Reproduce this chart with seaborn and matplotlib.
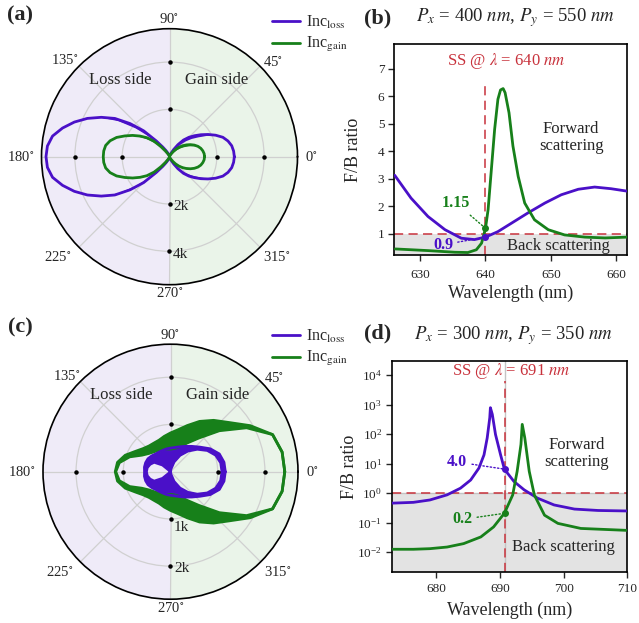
import numpy as np
import matplotlib
matplotlib.use("Agg")
import matplotlib.pyplot as plt
import seaborn as sns
from matplotlib.lines import Line2D
from matplotlib.ticker import NullLocator, FixedLocator

sns.set_theme(style="ticks")
plt.rcParams['font.family'] = ['Liberation Serif', 'DejaVu Serif']
plt.rcParams['mathtext.fontset'] = 'stix'

# ---------------- data ----------------
# (a) polar radiation patterns (upper half, mirrored for lower half)
ang_a = [0, 5, 10, 15, 20, 25, 30, 35, 40, 45, 50, 55, 60, 65, 70, 75, 80, 85, 90,
         95, 100, 105, 110, 115, 120, 125, 130, 135, 140, 145, 150, 155, 160, 165, 170, 175, 180]
loss_a = [2740, 2720, 2670, 2560, 2400, 2150, 1880, 1620, 1380, 1160, 920, 620, 350, 180, 100, 60, 40, 30, 30,
          30, 40, 60, 100, 180, 300, 500, 870, 1550, 2180, 2820, 3330, 3830, 4280, 4680, 5020, 5180, 5220]
loss_a_in = [2740, 2720, 2670, 2560, 2400, 2150, 1800, 1460, 1200, 950, 700, 420, 200, 120, 100, 60, 40, 30, 30,
             30, 40, 60, 80, 100, 180, 320, 600, 1200, 1900, 2650, 3330, 3830, 4280, 4680, 5020, 5180, 5220]
gain_a = [1480, 1470, 1430, 1370, 1280, 1160, 1020, 870, 720, 560, 400, 250, 130, 70, 40, 30, 30, 30, 30,
          30, 30, 40, 50, 90, 150, 300, 550, 920, 1250, 1520, 1800, 2080, 2380, 2600, 2740, 2790, 2800]
gain_a_in = [1480, 1470, 1430, 1370, 1280, 1100, 920, 740, 580, 420, 280, 150, 60, 30, 20, 10, 10, 10, 10,
             10, 10, 10, 20, 40, 80, 180, 380, 740, 1110, 1450, 1800, 2080, 2380, 2600, 2740, 2790, 2800]

# (c) polar patterns: outer / inner envelopes of the rapidly oscillating curves
ang_c = [0, 10, 20, 30, 40, 50, 60, 70, 80, 90, 100, 110, 120, 130, 140, 150, 160, 170, 180]
gain_c_out = [2420, 2400, 2300, 1950, 1620, 1420, 1230, 1040, 900, 820, 760, 710, 700, 710, 760, 860, 1020, 1140, 1170]
gain_c_in = [2420, 2400, 2300, 1860, 1350, 930, 700, 560, 500, 480, 490, 500, 520, 550, 600, 700, 920, 1100, 1160]
loss_c_out = [1160, 1150, 1100, 970, 810, 700, 620, 560, 520, 500, 490, 480, 480, 490, 520, 550, 560, 560, 550]
loss_c_in = [1090, 1080, 1020, 900, 740, 570, 400, 220, 60, 0, 0, 0, 0, 20, 220, 400, 460, 500, 510]

# (b) F/B ratio, Px=400, Py=550
wl_b_loss = [626.1, 628.6, 631.2, 633.8, 636.3, 638.3, 640.0, 641.9, 644.0, 646.5, 649.1, 651.6, 654.2, 656.7, 659.2, 661.7]
fb_b_loss = [3.13, 2.30, 1.63, 1.15, 0.84, 0.79, 0.88, 1.08, 1.39, 1.76, 2.12, 2.42, 2.62, 2.70, 2.64, 2.55]
wl_b_gain = [626.2, 631.2, 635.3, 637.3, 638.6, 639.4, 640.0, 640.4, 640.9, 641.4, 641.9, 642.3, 642.7,
             643.0, 643.6, 644.2, 645.0, 646.0, 647.5, 649.6, 652.1, 655.2, 658.3, 661.7]
fb_b_gain = [0.45, 0.39, 0.33, 0.32, 0.42, 0.66, 1.20, 1.88, 3.34, 4.80, 5.89, 6.23, 6.28,
             6.13, 5.40, 4.19, 3.09, 2.12, 1.51, 1.15, 0.96, 0.88, 0.85, 0.88]

# (d) F/B ratio, Px=300, Py=350 (log)
wl_d_loss = [673.0, 676.4, 679.0, 681.7, 683.8, 685.4, 686.7, 687.5, 688.0, 688.4, 688.5, 688.8, 689.3,
             690.1, 690.7, 692.2, 693.8, 695.9, 698.5, 701.7, 705.4, 710.0]
fb_d_loss = [0.46, 0.49, 0.59, 0.88, 1.48, 2.8, 7.1, 20, 75, 360, 790, 470, 98,
             20, 6.5, 2.5, 1.3, 0.68, 0.40, 0.29, 0.26, 0.25]
wl_d_gain = [673.0, 676.4, 679.0, 681.7, 684.3, 687.0, 689.0, 690.7, 692.0, 692.7, 693.3, 693.5, 693.9,
             694.6, 695.4, 697.0, 699.1, 702.7, 710.0]
fb_d_gain = [0.0126, 0.0126, 0.0132, 0.015, 0.0196, 0.033, 0.072, 0.21, 0.87, 5.5, 45, 215, 75,
             5.5, 0.87, 0.18, 0.095, 0.064, 0.055]

ss_b = 640.0
ss_d = 690.8
ann_b = {"loss": (0.88, "0.9"), "gain": (1.20, "1.15")}
ann_d = {"loss": (6.5, "4.0"), "gain": (0.21, "0.2")}

# ---------------- style ----------------
PURPLE = "#4a10c8"
GREEN = "#17801a"
RED = "#c8323c"
BG_LOSS = "#efebf8"
BG_GAIN = "#eaf4e9"
SHADE = "#e3e3e3"

W, H = 639, 623
fig = plt.figure(figsize=(W / 100, H / 100), dpi=100)


def fx(px):
    return px / W


def fy(py):
    return 1 - py / H


def mirror(ang, vals):
    a = np.deg2rad(np.concatenate([ang, 360 - np.array(ang[::-1][1:])]))
    v = np.concatenate([vals, np.array(vals[::-1][1:])])
    return a, v


def polar_panel(rect, rmax, rings, ring_labels, ring_offsets, curves, bands):
    ax = fig.add_axes(rect, projection='polar')
    ax.set_ylim(0, rmax)
    thl = np.linspace(np.pi / 2, 3 * np.pi / 2, 200)
    thr = np.linspace(-np.pi / 2, np.pi / 2, 200)
    ax.fill_between(thl, 0, rmax, color=BG_LOSS, lw=0, zorder=0)
    ax.fill_between(thr, 0, rmax, color=BG_GAIN, lw=0, zorder=0)
    ax.set_xticks(np.deg2rad(np.arange(0, 360, 45)))
    ax.set_xticklabels([])
    ax.set_yticks(rings)
    ax.set_yticklabels([])
    ax.grid(True, color='#d0d0d0', lw=0.9)
    ax.tick_params(length=0)
    ax.spines['polar'].set_color('black')
    ax.spines['polar'].set_linewidth(1.2)
    for ang, r, color in bands:
        ax.fill_between(ang, r[0], r[1], color=color, lw=0, zorder=2)
    for ang, r, color in curves:
        sns.lineplot(x=ang, y=r, ax=ax, sort=False, estimator=None, color=color, lw=2, zorder=3)
    ax.set_xlabel('')
    ax.set_ylabel('')
    for rr in rings:
        ax.plot(np.deg2rad([0, 90, 180, 270]), [rr] * 4, 'o', ms=2.2, color='black', zorder=4, clip_on=False)
    for rr, lab, off in zip(rings, ring_labels, ring_offsets):
        ax.annotate(lab, xy=(np.deg2rad(270), rr), xytext=off, textcoords='offset points',
                    ha='left', va='center', fontsize=11, zorder=5)
    offs = {0: (14.2, 0), 45: (13, 4), 90: (0, 9.7), 135: (-14, 6), 180: (-21, 0),
            225: (-21, -10), 270: (0, -8.5), 315: (17, -10)}
    for d, (ox, oy) in offs.items():
        ax.annotate(f"{d}" + r"$^{\circ}$", xy=(np.deg2rad(d), rmax), xytext=(ox * 0.72, oy * 0.72),
                    textcoords='offset points', ha='center', va='center', fontsize=10.5,
                    annotation_clip=False)
    ax.text(0.307, 0.80, "Loss side", transform=ax.transAxes, ha='center', va='center', fontsize=12, zorder=5)
    ax.text(0.686, 0.80, "Gain side", transform=ax.transAxes, ha='center', va='center', fontsize=12, zorder=5)
    return ax


def add_legend(ax, x, y):
    handles = [Line2D([0], [0], color=PURPLE, lw=2), Line2D([0], [0], color=GREEN, lw=2)]
    labels = [r"Inc$_{\mathrm{loss}}$", r"Inc$_{\mathrm{gain}}$"]
    ax.legend(handles, labels, loc='upper left', bbox_to_anchor=(fx(x), fy(y)),
              bbox_transform=fig.transFigure, frameon=False, fontsize=11.5,
              handlelength=1.75, handletextpad=0.4, labelspacing=0.3, borderpad=0, borderaxespad=0)


# ---- (a)
a1, r1 = mirror(ang_a, loss_a)
_, r1i = mirror(ang_a, loss_a_in)
a2, r2 = mirror(ang_a, gain_a)
_, r2i = mirror(ang_a, gain_a_in)
axa = polar_panel([fx(41.5), fy(284.7), 256 / W, 256 / H], 5410, [2000, 4000], ["2k", "4k"],
                  [(2.5, -2), (2.5, -2)], [(a1, r1, PURPLE), (a2, r2, GREEN)],
                  [(a1, (r1i, r1), PURPLE), (a2, (r2i, r2), GREEN)])
add_legend(axa, 272, 13.5)

# ---- (c)
c1, go = mirror(ang_c, gain_c_out)
_, gi = mirror(ang_c, gain_c_in)
c2, lo = mirror(ang_c, loss_c_out)
_, li = mirror(ang_c, loss_c_in)
axc = polar_panel([fx(43), fy(599.2), 255 / W, 255 / H], 2700, [1000, 2000], ["1k", "2k"],
                  [(2.5, -6), (2.5, -2)],
                  [(c1, go, GREEN), (c1, gi, GREEN), (c2, lo, PURPLE), (c2, li, PURPLE)],
                  [(c1, (gi, go), GREEN), (c2, (li, lo), PURPLE)])
add_legend(axc, 272, 327.5)


# ---- line panels
def style_line_ax(ax, xpad, xlab_y, ylab_x):
    for s in ax.spines.values():
        s.set_linewidth(1.2)
        s.set_color('black')
    ax.tick_params(direction='out', length=4.5, width=1, labelsize=9.5, pad=2.5)
    ax.tick_params(axis='x', pad=xpad)
    ax.set_xlabel("Wavelength (nm)", fontsize=13)
    ax.set_ylabel("F/B ratio", fontsize=13)
    ax.xaxis.set_label_coords(0.5, xlab_y)
    ax.yaxis.set_label_coords(ylab_x, 0.5)


axb = fig.add_axes([fx(394), fy(255), 233.3 / W, 211 / H])
axb.set_xlim(626, 661.7)
axb.set_ylim(0.23, 7.9)
axb.axhspan(0.23, 1, color=SHADE, lw=0, zorder=0)
sns.lineplot(x=wl_b_loss, y=fb_b_loss, ax=axb, color=PURPLE, lw=2, sort=False, estimator=None, zorder=3)
sns.lineplot(x=wl_b_gain, y=fb_b_gain, ax=axb, color=GREEN, lw=2, sort=False, estimator=None, zorder=3)
axb.axhline(1, color=RED, ls=(0, (6, 3.5)), lw=1.1, zorder=2)
axb.plot([ss_b, ss_b], [0.23, 6.5], color=RED, ls=(0, (6, 3.5)), lw=1.1, zorder=2)
axb.set_xticks([630, 640, 650, 660])
axb.set_yticks([1, 2, 3, 4, 5, 6, 7])
style_line_ax(axb, 5.5, -0.139, -0.139)
for key, color, txy in [("loss", PURPLE, (633.5, 0.6)), ("gain", GREEN, (635.5, 2.12))]:
    val, lab = ann_b[key]
    axb.plot(ss_b, val, 'o', ms=4, color=color, zorder=4)
    axb.annotate(lab, xy=(ss_b, val), xytext=txy, ha='center', va='center', color=color,
                 fontsize=11.5, fontweight='bold',
                 arrowprops=dict(arrowstyle='-', ls=':', color=color, lw=1, shrinkA=1, shrinkB=0))
axb.text(643.2, 7.29, r"SS @ $\lambda$ = 640 $nm$", color=RED, ha='center', va='center', fontsize=12)
axb.text(653.1, 4.5, "Forward\nscattering", ha='center', va='center', fontsize=12, linespacing=1.15)
axb.text(651.1, 0.54, "Back scattering", ha='center', va='center', fontsize=12)

axd = fig.add_axes([fx(391.7), fy(572.3), 235.6 / W, 211.6 / H])
axd.set_yscale('log')
ylo, yhi = 10 ** -2.68, 10 ** 4.49
axd.set_xlim(673, 710)
axd.set_ylim(ylo, yhi)
axd.axhspan(ylo, 1, color=SHADE, lw=0, zorder=0)
axd.axvline(ss_d, color='#c4c4c4', lw=1, zorder=1)
axd.axhline(1, color='#c4c4c4', lw=1, zorder=1)
sns.lineplot(x=wl_d_loss, y=fb_d_loss, ax=axd, color=PURPLE, lw=2, sort=False, estimator=None, zorder=3)
sns.lineplot(x=wl_d_gain, y=fb_d_gain, ax=axd, color=GREEN, lw=2, sort=False, estimator=None, zorder=3)
axd.axhline(1, color=RED, ls=(0, (6, 3.5)), lw=1.1, zorder=2)
axd.plot([ss_d, ss_d], [ylo, 6500], color=RED, ls=(0, (6, 3.5)), lw=1.1, zorder=2)
axd.set_xticks([680, 690, 700, 710])
axd.yaxis.set_major_locator(FixedLocator([1e-2, 1e-1, 1, 1e1, 1e2, 1e3, 1e4]))
axd.yaxis.set_minor_locator(NullLocator())
style_line_ax(axd, 3.5, -0.137, -0.144)
for key, color, txy in [("loss", PURPLE, (683.3, 11.4)), ("gain", GREEN, (684.1, 0.13))]:
    val, lab = ann_d[key]
    axd.plot(ss_d, val, 'o', ms=4, color=color, zorder=4)
    axd.annotate(lab, xy=(ss_d, val), xytext=txy, ha='center', va='center', color=color,
                 fontsize=11.5, fontweight='bold',
                 arrowprops=dict(arrowstyle='-', ls=':', color=color, lw=1, shrinkA=1, shrinkB=0))
axd.text(691.7, 14000, r"SS @ $\lambda$ = 691 $nm$", color=RED, ha='center', va='center', fontsize=12)
axd.text(702, 22, "Forward\nscattering", ha='center', va='center', fontsize=12, linespacing=1.15)
axd.text(699.9, 0.015, "Back scattering", ha='center', va='center', fontsize=12)

for lab, x, y in [("(a)", 20, 15), ("(b)", 378, 18), ("(c)", 20, 327), ("(d)", 378, 333)]:
    fig.text(fx(x), fy(y), lab, fontsize=16, fontweight='bold', ha='center', va='center')
fig.text(fx(515), fy(18), r"$P_x$ = 400 $nm$, $P_y$ = 550 $nm$", fontsize=13.5, ha='center', va='center')
fig.text(fx(513), fy(336), r"$P_x$ = 300 $nm$, $P_y$ = 350 $nm$", fontsize=13.5, ha='center', va='center')

fig.savefig("out.png", dpi=100)
